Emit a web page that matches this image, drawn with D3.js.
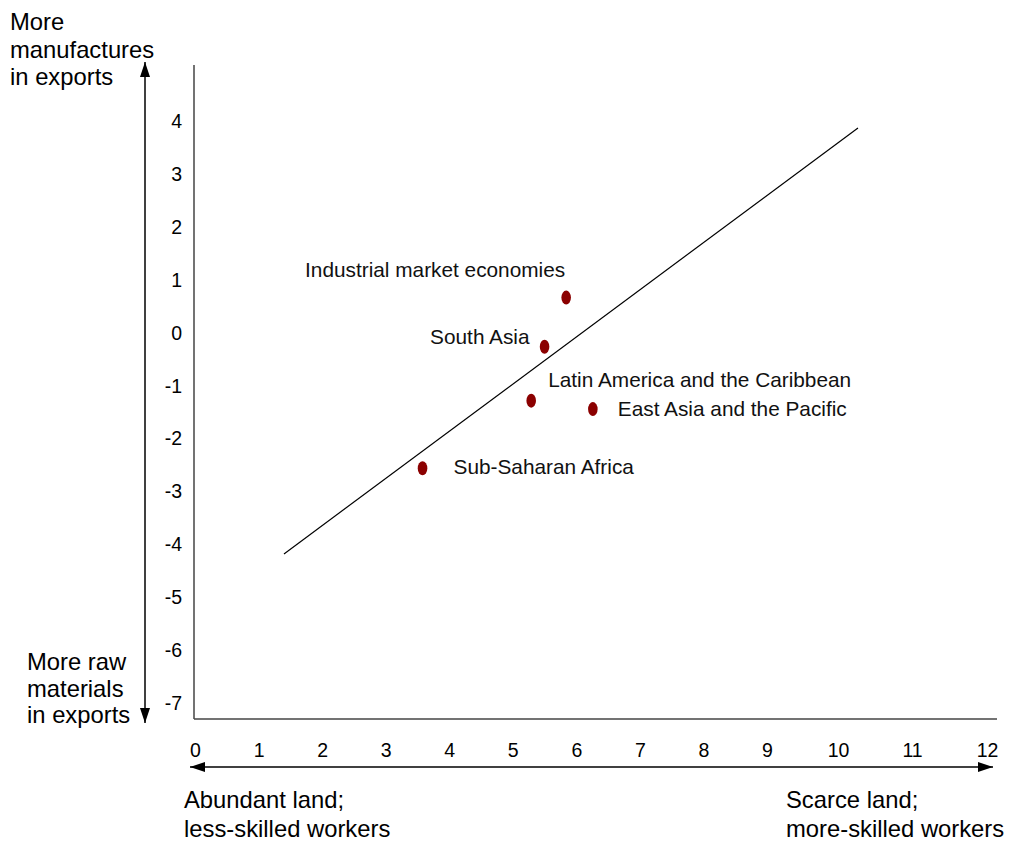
<!DOCTYPE html>
<html>
<head>
<meta charset="utf-8">
<script src="https://cdn.jsdelivr.net/npm/d3@7"></script>
<style>
  html, body { margin: 0; padding: 0; background: #fff; }
  svg { display: block; font-family: "Liberation Sans", Arial, Helvetica, sans-serif; }
</style>
</head>
<body>
<div id="chart"></div>
<script>
// ---- data ----
const regions = ["Industrial market economies", "South Asia", "Latin America and the Caribbean", "East Asia and the Pacific", "Sub-Saharan Africa"];
const xValues = [5.84, 5.50, 5.29, 6.26, 3.58];
const yValues = [0.67, -0.26, -1.28, -1.44, -2.56];
const trendX = [1.40, 10.27];
const trendY = [-4.18, 3.88];
const xTicks = [0, 1, 2, 3, 4, 5, 6, 7, 8, 9, 10, 11, 12];
const yTicks = [4, 3, 2, 1, 0, -1, -2, -3, -4, -5, -6, -7];
const yTopLabel = ["More", "manufactures", "in exports"];
const yBottomLabel = ["More raw", "materials", "in exports"];
const xLeftLabel = ["Abundant land;", "less-skilled workers"];
const xRightLabel = ["Scarce land;", "more-skilled workers"];

// ---- layout / style (not data) ----
const W = 1010, H = 846;
const labelOffsets = [
  {dx: -1, dy: -21, anchor: "end"},
  {dx: -15, dy: -2.5, anchor: "end"},
  {dx: 17, dy: -14, anchor: "start"},
  {dx: 25, dy: 7, anchor: "start"},
  {dx: 31, dy: 6, anchor: "start"}
];

const svg = d3.select("#chart").append("svg").attr("width", W).attr("height", H);

const x = d3.scaleLinear().domain([0, 9, 10, 11, 12]).range([195, 767, 838, 912, 987]);
const y = d3.scaleLinear().domain([-7, 4]).range([702.95, 121.6]);

const axisX = 194, axisY = 719;

// defs: arrowheads
const defs = svg.append("defs");
defs.append("marker").attr("id", "arr").attr("viewBox", "0 0 15 12")
  .attr("refX", 15).attr("refY", 6).attr("markerWidth", 15).attr("markerHeight", 12)
  .attr("markerUnits", "userSpaceOnUse").attr("orient", "auto-start-reverse")
  .append("path").attr("d", "M0,1 L15,6 L0,11 Z").attr("fill", "#000");

// axis frame lines
svg.append("line").attr("x1", axisX).attr("x2", axisX).attr("y1", 65).attr("y2", axisY)
  .attr("stroke", "#444").attr("stroke-width", 1.5);
svg.append("line").attr("x1", axisX).attr("x2", 997).attr("y1", axisY).attr("y2", axisY)
  .attr("stroke", "#444").attr("stroke-width", 1.5);

// x axis ticks
const gx = svg.append("g").attr("transform", `translate(0,${axisY})`)
  .call(d3.axisBottom(x).tickValues(xTicks).tickSize(0).tickPadding(24).tickFormat(d3.format("d")));
gx.select(".domain").remove();
gx.selectAll("text").attr("font-size", 19.5).attr("fill", "#000").attr("font-family", null);

// y axis ticks
const gy = svg.append("g").attr("transform", `translate(${axisX},0)`)
  .call(d3.axisLeft(y).tickValues(yTicks).tickSize(0).tickPadding(12).tickFormat(d => d3.format("d")(d).replace("−", "-")));
gy.select(".domain").remove();
gy.selectAll("text").attr("font-size", 19.5).attr("fill", "#000").attr("font-family", null);

// double-headed arrows
svg.append("line").attr("x1", 145).attr("x2", 145).attr("y1", 723).attr("y2", 62)
  .attr("stroke", "#000").attr("stroke-width", 1.5)
  .attr("marker-start", "url(#arr)").attr("marker-end", "url(#arr)");
svg.append("line").attr("x1", 190).attr("x2", 993).attr("y1", 767).attr("y2", 767)
  .attr("stroke", "#000").attr("stroke-width", 1.5)
  .attr("marker-start", "url(#arr)").attr("marker-end", "url(#arr)");

// trend line
svg.append("line")
  .attr("x1", x(trendX[0])).attr("y1", y(trendY[0]))
  .attr("x2", x(trendX[1])).attr("y2", y(trendY[1]))
  .attr("stroke", "#000").attr("stroke-width", 1.2);

// points
const pts = regions.map((r, i) => ({r, x: xValues[i], y: yValues[i], o: labelOffsets[i]}));
svg.append("g").selectAll("ellipse").data(pts).join("ellipse")
  .attr("cx", d => x(d.x)).attr("cy", d => y(d.y)).attr("rx", 4.8).attr("ry", 7)
  .attr("fill", "#8b0000");

svg.append("g").selectAll("text").data(pts).join("text")
  .attr("x", d => x(d.x) + d.o.dx).attr("y", d => y(d.y) + d.o.dy)
  .attr("text-anchor", d => d.o.anchor)
  .attr("font-size", 20.8).attr("fill", "#111").text(d => d.r);

// descriptive labels
function multiline(lines, x0, y0, lh, size) {
  const t = svg.append("text").attr("font-size", size).attr("fill", "#000");
  lines.forEach((l, i) => t.append("tspan").attr("x", x0).attr("y", y0 + i * lh).text(l));
}
multiline(yTopLabel, 10, 30, 27.5, 23.8);
multiline(yBottomLabel, 27, 670, 26.5, 23.8);
multiline(xLeftLabel, 184, 808, 29, 23.8);
multiline(xRightLabel, 786, 808, 29, 23.8);
</script>
</body>
</html>
